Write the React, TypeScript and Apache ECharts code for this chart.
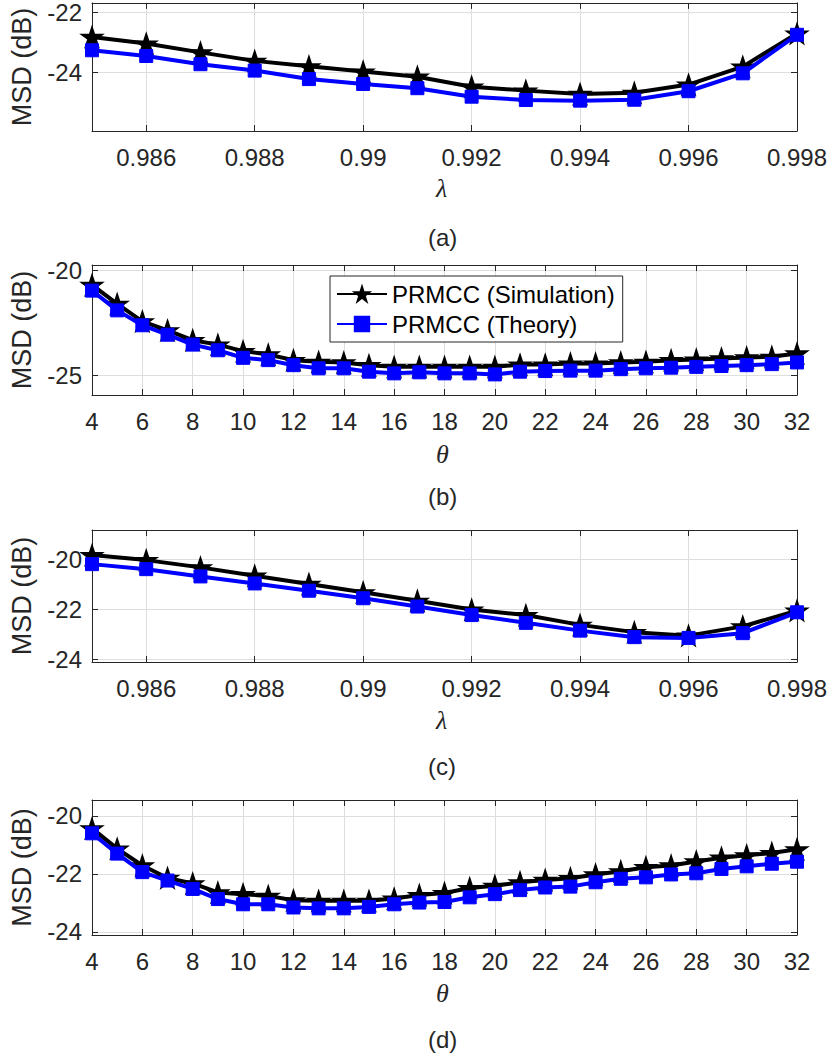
import React, { useEffect, useRef } from "react";
import * as echarts from "echarts";

const lambdaVals = [0.985, 0.986, 0.987, 0.988, 0.989, 0.99, 0.991, 0.992, 0.993, 0.994, 0.995, 0.996, 0.997, 0.998];
const thetaVals = [4, 5, 6, 7, 8, 9, 10, 11, 12, 13, 14, 15, 16, 17, 18, 19, 20, 21, 22, 23, 24, 25, 26, 27, 28, 29, 30, 31, 32];

const simA = [-22.82, -23.04, -23.33, -23.61, -23.79, -23.96, -24.13, -24.46, -24.59, -24.7, -24.66, -24.39, -23.8, -22.71];
const theoA = [-23.26, -23.45, -23.72, -23.93, -24.21, -24.37, -24.51, -24.79, -24.9, -24.92, -24.89, -24.61, -24.02, -22.75];

const simB = [-20.71, -21.61, -22.44, -22.87, -23.34, -23.55, -23.86, -24.02, -24.29, -24.37, -24.4, -24.53, -24.61, -24.61, -24.61, -24.61, -24.61, -24.5, -24.5, -24.45, -24.45, -24.4, -24.37, -24.29, -24.26, -24.21, -24.16, -24.13, -23.97];
const theoB = [-20.98, -21.92, -22.63, -23.08, -23.55, -23.82, -24.18, -24.29, -24.53, -24.68, -24.68, -24.84, -24.92, -24.87, -24.92, -24.92, -24.97, -24.84, -24.81, -24.79, -24.79, -24.72, -24.68, -24.65, -24.61, -24.57, -24.53, -24.48, -24.4];

const simC = [-19.84, -20.04, -20.33, -20.66, -20.99, -21.32, -21.66, -22.01, -22.23, -22.62, -22.91, -23.05, -22.68, -22.05];
const theoC = [-20.2, -20.4, -20.69, -20.97, -21.26, -21.56, -21.89, -22.23, -22.54, -22.85, -23.11, -23.14, -22.95, -22.12];

const simD = [-20.43, -21.13, -21.71, -22.14, -22.33, -22.64, -22.7, -22.76, -22.91, -22.93, -22.93, -22.93, -22.85, -22.73, -22.66, -22.49, -22.41, -22.29, -22.21, -22.15, -22.02, -21.91, -21.77, -21.71, -21.57, -21.44, -21.36, -21.28, -21.15];
const theoD = [-20.6, -21.3, -21.94, -22.23, -22.52, -22.87, -23.05, -23.05, -23.16, -23.19, -23.19, -23.14, -23.05, -22.99, -22.97, -22.81, -22.7, -22.56, -22.47, -22.44, -22.29, -22.17, -22.12, -22.02, -21.98, -21.83, -21.74, -21.65, -21.58];

const lambdaTicks = [0.986, 0.988, 0.99, 0.992, 0.994, 0.996, 0.998];
const thetaTicks = [4, 6, 8, 10, 12, 14, 16, 18, 20, 22, 24, 26, 28, 30, 32];
const yTicksA = [-24, -22];
const yTicksB = [-25, -20];
const yTicksC = [-24, -22, -20];
const yTicksD = [-24, -22, -20];

const seriesNames = ["PRMCC (Simulation)", "PRMCC (Theory)"];
const panelLabels = ["(a)", "(b)", "(c)", "(d)"];
const xTitles = ["λ", "θ", "λ", "θ"];

const STAR = "path://M1 0 L1.225 0.691 L1.951 0.691 L1.363 1.118 L1.588 1.809 L1 1.382 L0.412 1.809 L0.637 1.118 L0.049 0.691 L0.775 0.691 Z";
const AX = "#262626";
const GRIDC = "#dedede";
const SANS = "'Liberation Sans', Arial, Helvetica, sans-serif";

export default function App() {
  const ref = useRef<HTMLDivElement>(null);
  useEffect(() => {
    if (!ref.current) return;
    const chart = echarts.init(ref.current, null, { renderer: "svg" });

    const panels = [
      { x: lambdaVals, xt: lambdaTicks, xr: [0.985, 0.998], yt: yTicksA, yr: [-25.92, -21.7], s: simA, t: theoA, top: 2, h: 129, lx: 190, ll: 238 },
      { x: thetaVals, xt: thetaTicks, xr: [4, 32], yt: yTicksB, yr: [-25.95, -19.76], s: simB, t: theoB, top: 265, h: 130, lx: 456, ll: 497 },
      { x: lambdaVals, xt: lambdaTicks, xr: [0.985, 0.998], yt: yTicksC, yr: [-24.1, -18.84], s: simC, t: theoC, top: 530, h: 132, lx: 722, ll: 767 },
      { x: thetaVals, xt: thetaTicks, xr: [4, 32], yt: yTicksD, yr: [-24.11, -19.45], s: simD, t: theoD, top: 800, h: 135, lx: 995, ll: 1040 },
    ];

    const grid: any[] = [];
    const xAxis: any[] = [];
    const yAxis: any[] = [];
    const series: any[] = [];
    const graphic: any[] = [];

    panels.forEach((p, i) => {
      grid.push({ left: 92, right: 35, top: p.top, height: p.h, containLabel: false });
      const baseX = {
        type: "value", gridIndex: i, min: p.xr[0], max: p.xr[1],
        axisLine: { show: true, onZero: false, lineStyle: { color: AX, width: 1 } },
      };
      xAxis.push({
        ...baseX, position: "bottom",
        axisTick: { show: true, inside: true, length: 6, customValues: p.xt, lineStyle: { color: AX } },
        axisLabel: { show: true, customValues: p.xt, margin: 14, fontSize: 24, color: AX, fontFamily: SANS },
        splitLine: { show: true, lineStyle: { color: GRIDC, width: 1 } },
      });
      xAxis.push({
        ...baseX, position: "top",
        axisTick: { show: true, inside: true, length: 6, customValues: p.xt, lineStyle: { color: AX } },
        axisLabel: { show: false },
        splitLine: { show: false },
      });
      const baseY = {
        type: "value", gridIndex: i, min: p.yr[0], max: p.yr[1],
        axisLine: { show: true, onZero: false, lineStyle: { color: AX, width: 1 } },
      };
      yAxis.push({
        ...baseY, position: "left",
        name: "MSD (dB)", nameLocation: "middle", nameGap: 57,
        nameTextStyle: { fontSize: 27, color: AX, fontFamily: SANS },
        axisTick: { show: true, inside: true, length: 6, customValues: p.yt, lineStyle: { color: AX } },
        axisLabel: { show: true, customValues: p.yt, margin: 10, fontSize: 24, color: AX, fontFamily: SANS },
        splitLine: { show: true, lineStyle: { color: GRIDC, width: 1 } },
      });
      yAxis.push({
        ...baseY, position: "right",
        axisTick: { show: true, inside: true, length: 6, customValues: p.yt, lineStyle: { color: AX } },
        axisLabel: { show: false },
        splitLine: { show: false },
      });
      series.push({
        name: seriesNames[0], type: "line", xAxisIndex: 2 * i, yAxisIndex: 2 * i,
        data: p.x.map((v, k) => [v, p.s[k]]),
        symbol: STAR, symbolSize: 21, symbolKeepAspect: true,
        lineStyle: { color: "#000", width: 4 },
        itemStyle: { color: "#000", borderColor: "#000", borderWidth: 1.5 },
        z: 2,
      });
      series.push({
        name: seriesNames[1], type: "line", xAxisIndex: 2 * i, yAxisIndex: 2 * i,
        data: p.x.map((v, k) => [v, p.t[k]]),
        symbol: "rect", symbolSize: 13,
        lineStyle: { color: "#0000ff", width: 4 },
        itemStyle: { color: "#0000ff", borderColor: "#0000ff", borderWidth: 1 },
        z: 3,
      });
      graphic.push({
        type: "text", left: 444 - 8, top: p.lx - 15,
        style: { text: xTitles[i], font: "italic 26px 'Liberation Serif', 'Times New Roman', serif", fill: AX },
      });
      graphic.push({
        type: "text", left: 428, top: p.ll - 13,
        style: { text: panelLabels[i], font: `24px ${SANS}`, fill: AX },
      });
    });

    chart.setOption({
      animation: false,
      backgroundColor: "#fff",
      grid, xAxis, yAxis, series, graphic,
      legend: {
        data: seriesNames,
        orient: "vertical",
        left: 330, top: 276,
        itemWidth: 50, itemHeight: 18, itemGap: 6,
        padding: [6, 8, 6, 6],
        borderColor: AX, borderWidth: 1, backgroundColor: "#fff",
        textStyle: { fontSize: 24, color: "#000", fontFamily: SANS },
      },
    });
    return () => chart.dispose();
  }, []);
  return <div ref={ref} style={{ position: "absolute", left: 0, top: 0, width: 832, height: 1063 }} />;
}
